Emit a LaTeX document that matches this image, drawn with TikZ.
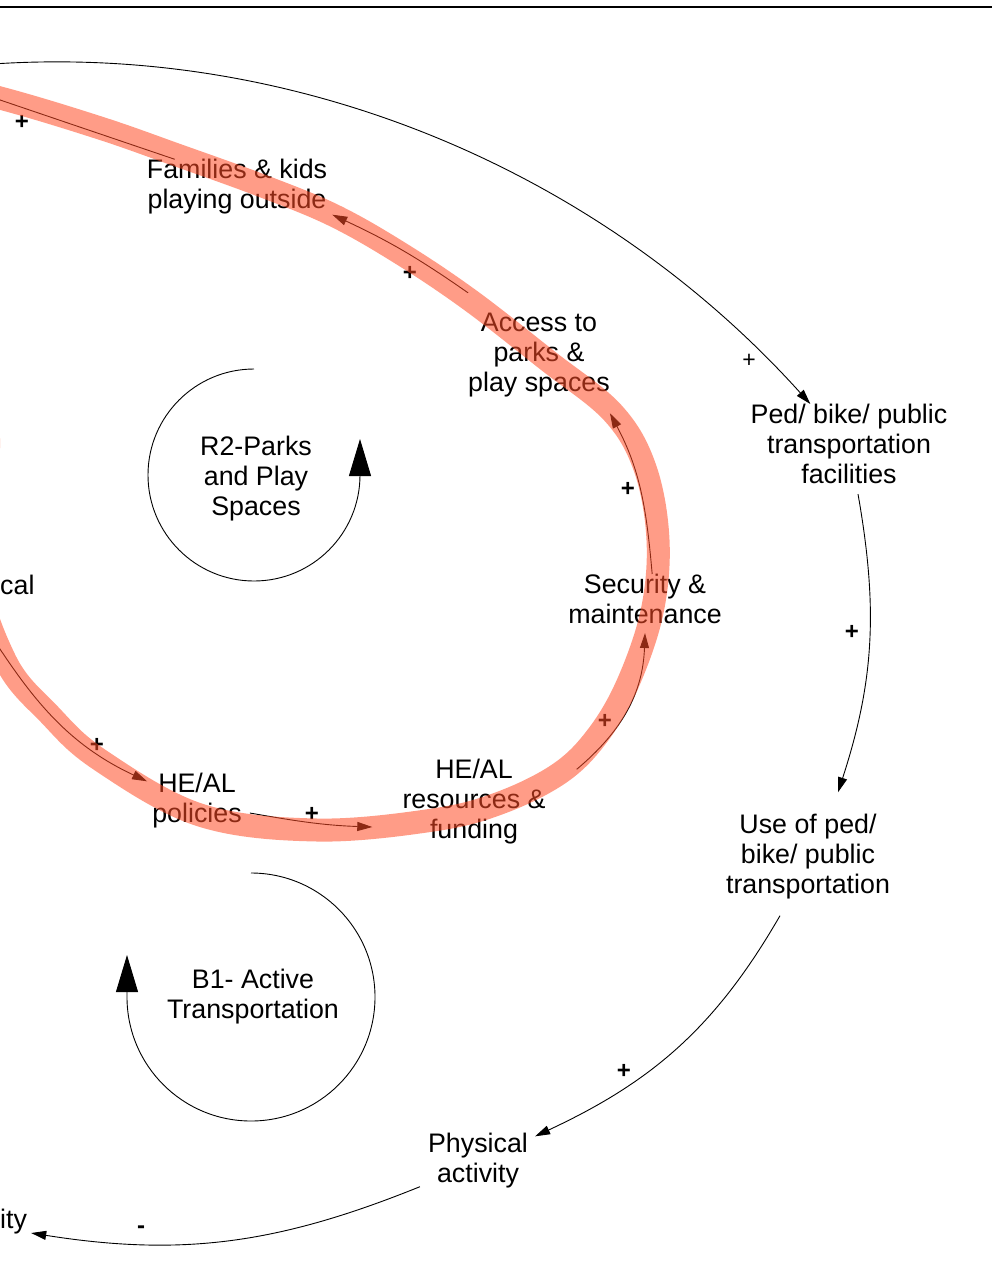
\documentclass[tikz,border=0pt]{standalone}
\usepackage{fontspec}
\setmainfont{Liberation Sans}
\usepackage{tikz}
\usetikzlibrary{arrows.meta,
                positioning}
\definecolor{hl}{rgb}{1,0.3,0.15}
\newcommand{\varfont}{\fontsize{26.8}{30}\selectfont}
\newcommand{\signfont}{\fontsize{24}{28}\selectfont\bfseries}

\begin{document}
\begin{tikzpicture}[x=1pt,y=-1pt,
  var/.style={inner sep=0pt,align=center,font=\varfont},
  link/.style={line width=0.9pt,-{Triangle[length=15pt,width=9pt]}},
  looparc/.style={line width=0.9pt,-{Triangle[length=37pt,width=22pt]}},
  sign/.style={inner sep=0pt,font=\signfont},
  band/.style={line width=23pt,hl,opacity=0.55,line join=round}]
\useasboundingbox (0,0) rectangle (992,1278);
\fill[white] (0,0) rectangle (992,1278);
\clip (0,0) rectangle (992,1278);
\draw[line width=2.7pt] (0,7) -- (992,7);

% variables
\node[var] (fam) at (237,187) {Families \& kids\\playing outside};
\node[var] (acc) at (539,355) {Access to\\parks \&\\play spaces};
\node[var] (ped) at (849,444) {Ped/ bike/ public\\transportation\\facilities};
\node[var] (sec) at (645,599) {Security \&\\maintenance};
\node[var] (use) at (808,857) {Use of ped/\\bike/ public\\transportation};
\node[var] (res) at (474,802) {HE/AL\\resources \&\\funding};
\node[var] (pol) at (197,801) {HE/AL\\policies};
\node[var] (phy) at (478,1161) {Physical\\activity};
\node[var,anchor=west] (cal) at (0,585) {cal};
\node[var,anchor=west] (ity) at (0,1222) {ity};

% loop names
\node[var] (rtwo) at (256,479) {R2-Parks\\and Play\\Spaces};
\node[var] (bone) at (253,997) {B1- Active\\Transportation};
\draw[looparc] ([shift={(-2,-110)}]rtwo.center) arc[start angle=90,end angle=360,radius=106pt] -- ++(0,-36);
\draw[looparc] ([shift={(-2,-124)}]bone.center) arc[start angle=90,end angle=-180,radius=124pt] -- ++(0,-42);

% links
\coordinate (topin) at (-60,69);
\coordinate (famout) at (-100,66);
\coordinate (calout) at (-25,610);
\draw[link] (topin) to[out=7,in=132,looseness=0.9] (ped.134);
\draw[link] (fam.156) -- (famout);
\draw[link] ([yshift=20pt]acc.north west) to[bend right=5] ([xshift=5pt]fam.south east);
\draw[link] (sec.74) to[out=95,in=-62] ([yshift=-16pt]acc.south east);
\draw[link] ([xshift=31pt,yshift=-10pt]res.north east) to[out=40,in=-92] ([yshift=-9pt]sec.south);
\draw[link] ([xshift=8pt,yshift=-12pt]pol.east) to[out=-10,in=178] ([xshift=-30pt,yshift=-25pt]res.west);
\draw[link] (calout) to[out=-58,in=155] ([xshift=-5pt,yshift=-8pt]pol.north west);
\draw[link] ([xshift=9pt,yshift=-10pt]ped.south) to[out=-80,in=72] ([xshift=30pt,yshift=22pt]use.north);
\draw[link] ([xshift=-28pt,yshift=-16pt]use.south) to[out=-120,in=25] ([xshift=7pt,yshift=-3pt]phy.north east);
\draw[link] ([xshift=-8pt,yshift=2pt]phy.south west) to[out=-158,in=-9] ([xshift=4pt,yshift=-11pt]ity.east);

% polarities
\foreach \x/\y/\s [count=\i] in {22/122/+,410/273/+,628/489/+,605/721/+,312/814/+,
                                 97/745/+,852/632/+,624/1071/+,141/1230/-}
  \node[sign] (s\i) at (\x,\y) {\s};
\node[sign,font=\fontsize{23}{28}\selectfont] (sthin) at (749,361) {+};

% highlighted loop
\draw[band] plot[smooth cycle,tension=0.6] coordinates {(0,98) (100,128) (177,155) (260,185)
  (333,215) (400,253) (470,300) (547,360) (613,413) (645,468) (658,540) (652,612)
  (628,683) (598,735) (560,773) (500,803) (433,820) (317,830) (200,815) (100,760)
  (50,715) (5,660) (-25,560) (-12,430) (-50,280) (-100,140) (-100,75)};
\end{tikzpicture}
\end{document}
